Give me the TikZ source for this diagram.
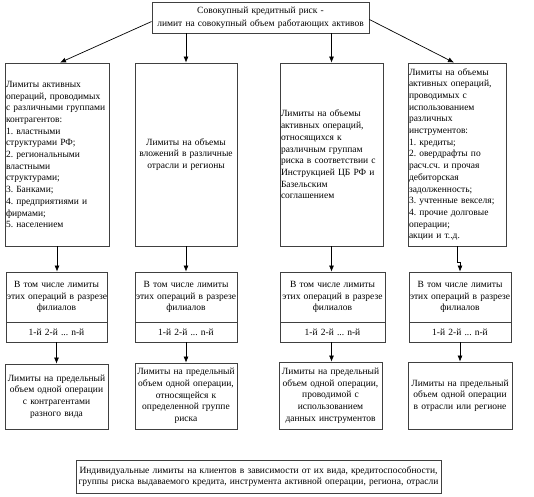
\documentclass[tikz,border=0pt]{standalone}
\usepackage{fontspec}
\setmainfont{Liberation Serif}
\usetikzlibrary{arrows.meta}
\frenchspacing
\newcommand\myfs{\fontsize{9.5}{11.7}\selectfont}
\definecolor{boxgray}{HTML}{404040}
\begin{document}
\begin{tikzpicture}[x=1pt,y=-1pt,
  box/.style={draw=boxgray, line width=0.8pt, inner sep=1pt, font=\myfs, anchor=center},
  arr/.style={draw=black, line width=0.7pt, -{Latex[length=6pt,width=5pt]}}]
\useasboundingbox[fill=white] (0,0) rectangle (534,496);

% top
\node[box, minimum width=217pt, minimum height=31pt, text width=215pt, align=center,
  font=\fontsize{9.5}{13}\selectfont] (top) at (260.5,17.5)
  {Совокупный кредитный риск -\\ \mbox{лимит на совокупный объем работающих активов}};
\coordinate (tw) at ([yshift=-4pt]top.west);
\coordinate (te) at ([yshift=-2pt]top.east);

% column boxes
\node[box, minimum width=104pt, minimum height=183pt, text width=102pt, align=left] (b1) at (57,154.5)
  {Лимиты активных\\ операций, проводимых\\ \mbox{с различными группами}\\ контрагентов:\\ 1. властными\\ структурами РФ;\\ 2. региональными\\ властными\\ структурами;\\ 3. Банками;\\ 4. предприятиями и\\ фирмами;\\ 5. населением};
\node[box, minimum width=102pt, minimum height=183pt, text width=100pt, align=center] (b2) at (186,154.5)
  {Лимиты на объемы\\ \mbox{вложений в различные}\\ отрасли и регионы};
\node[box, minimum width=103pt, minimum height=183pt, text width=101pt, align=left] (b3) at (331.5,154.5)
  {Лимиты на объемы\\ активных операций,\\ относящихся к\\ различным группам\\ \mbox{риска в соответствии с}\\ \mbox{Инструкцией ЦБ РФ и}\\ Базельским\\ соглашением};
\node[box, minimum width=98pt, minimum height=183pt, text width=96pt, align=left] (b4) at (457,154.5)
  {Лимиты на объемы\\ активных операций,\\ проводимых с\\ использованием\\ различных\\ инструментов:\\ 1. кредиты;\\ 2. овердрафты по\\ \mbox{расч.сч. и прочая}\\ дебиторская\\ задолженность;\\ \mbox{3. учтенные векселя;}\\ \mbox{4. прочие долговые}\\ операции;\\ акции и т..д.};

% middle boxes
\node[box, minimum width=101pt, minimum height=50pt, text width=99pt, align=center] (m1) at (56.5,297)
  {В том числе лимиты\\ \mbox{этих операций в разрезе}\\ филиалов};
\node[box, minimum width=101pt, minimum height=20pt, text width=99pt, align=center] (n1) at (56.5,332) {1-й 2-й ... n-й};
\node[box, minimum width=102pt, minimum height=50pt, text width=100pt, align=center] (m2) at (186,297)
  {В том числе лимиты\\ \mbox{этих операций в разрезе}\\ филиалов};
\node[box, minimum width=102pt, minimum height=20pt, text width=100pt, align=center] (n2) at (186,332) {1-й 2-й ... n-й};
\node[box, minimum width=105pt, minimum height=50pt, text width=103pt, align=center] (m3) at (332.5,297)
  {В том числе лимиты\\ \mbox{этих операций в разрезе}\\ филиалов};
\node[box, minimum width=105pt, minimum height=20pt, text width=103pt, align=center] (n3) at (332.5,332) {1-й 2-й ... n-й};
\node[box, minimum width=102pt, minimum height=50pt, text width=100pt, align=center] (m4) at (460,297)
  {В том числе лимиты\\ \mbox{этих операций в разрезе}\\ филиалов};
\node[box, minimum width=102pt, minimum height=20pt, text width=100pt, align=center] (n4) at (460,332) {1-й 2-й ... n-й};

% bottom boxes
\node[box, minimum width=103pt, minimum height=65pt, text width=101pt, align=center] (c1) at (56.5,396.5)
  {\mbox{Лимиты на предельный}\\ \mbox{объем одной операции}\\ с контрагентами\\ разного вида};
\node[box, minimum width=102pt, minimum height=66pt, text width=100pt, align=center] (c2) at (186,396)
  {\mbox{Лимиты на предельный}\\ \mbox{объем одной операции,}\\ относящейся к\\ \mbox{определенной группе}\\ риска};
\node[box, minimum width=103pt, minimum height=67pt, text width=101pt, align=center] (c3) at (330.5,395.5)
  {\mbox{Лимиты на предельный}\\ \mbox{объем одной операции,}\\ проводимой с\\ использованием\\ \mbox{данных инструментов}};
\node[box, minimum width=104pt, minimum height=67pt, text width=102pt, align=center] (c4) at (460,395.5)
  {\mbox{Лимиты на предельный}\\ \mbox{объем одной операции}\\ \mbox{в отрасли или регионе}};

% bottom wide box
\node[box, minimum width=365pt, minimum height=33pt, text width=363pt, align=center] (ind) at (258.5,476.5)
  {\mbox{Индивидуальные лимиты на клиентов в зависимости от их вида, кредитоспособности,}\\ \mbox{группы риска выдаваемого кредита, инструмента активной операции, региона, отрасли}};

% connectors from top
\draw[arr] (tw) -- ([xshift=3pt]b1.north);
\draw[arr] (top.south -| b2.north) -- (b2.north);
\draw[arr] (top.south -| b3.north) -- (b3.north);
\draw[arr] (te) -- ([xshift=-3pt]b4.north);

% columns to middle
\draw[arr] (b1.south) -- (b1.south |- m1.north);
\draw[arr] (b2.south) -- (m2.north);
\draw[arr] (b3.south) -- (b3.south |- m3.north);
\draw[arr] (b4.south) -- ++(0,16) -| (m4.north);

% middle to bottom
\draw[arr] (n1.south) -- (c1.north);
\draw[arr] (n2.south) -- (c2.north);
\draw[arr] (n3.south -| b3.south) -- (b3.south |- c3.north);
\draw[arr] (n4.south) -- (c4.north);
\end{tikzpicture}
\end{document}
